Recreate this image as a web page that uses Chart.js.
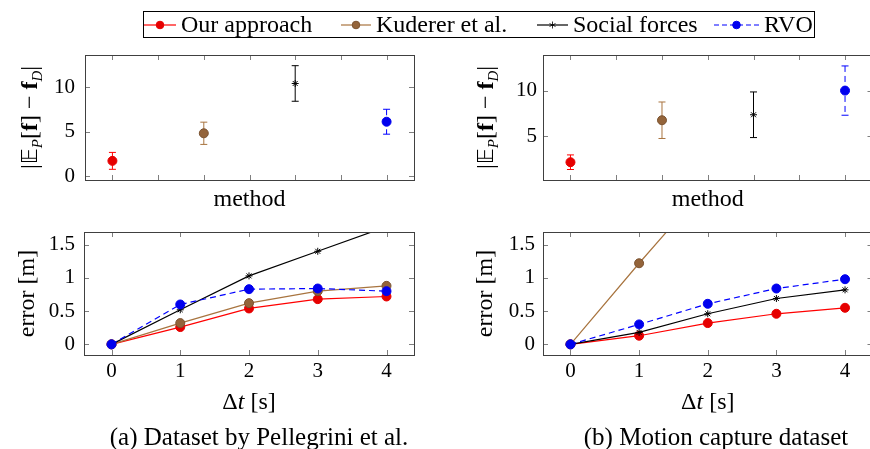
<!DOCTYPE html>
<html>
<head>
<meta charset="utf-8">
<script src="https://cdn.jsdelivr.net/npm/chart.js@4.4.0/dist/chart.umd.min.js"></script>
<style>
	body { margin: 0; width: 870px; height: 449px; overflow: hidden; background: #fff; position: relative; font-family: "Liberation Serif", serif; }
	canvas { position: absolute; left: 0; top: 0; }
	#legend { position: absolute; left: 143px; top: 11px; width: 672px; height: 27px; border: 1px solid #000; box-sizing: border-box; }
	.item { position: absolute; top: 0; height: 25px; display: flex; align-items: center; font-size: 24px; line-height: 25px; white-space: nowrap; }
	.item svg { margin-right: 5px; }
	.cap { position: absolute; top: 424px; font-size: 25px; line-height: 26px; white-space: nowrap; transform: translateX(-50%); }
</style>
</head>
<body>
<canvas id="tl" width="880" height="449"></canvas>
<canvas id="tr" width="880" height="449"></canvas>
<canvas id="bl" width="880" height="449"></canvas>
<canvas id="br" width="880" height="449"></canvas>
<div id="legend"></div>
<div class="cap" style="left:259px">(a) Dataset by Pellegrini et al.</div>
<div class="cap" style="left:716px">(b) Motion capture dataset</div>
<script>
// methods and feature differences (top row)
const methods = ['Our approach', 'Kuderer et al.', 'Social forces', 'RVO'];
const methodPos = [1, 2, 3, 4];
const featA = [1.7, 4.8, 10.4, 6.1];
const featErrA = [0.95, 1.25, 2.0, 1.4];
const featB = [2.15, 6.75, 7.35, 10.0];
const featErrB = [0.8, 2.0, 2.5, 2.7];

// prediction error over time (bottom row)
const dt = [0, 1, 2, 3, 4];
const oursA = [0, 0.26, 0.54, 0.68, 0.72];
const kudererA = [0, 0.32, 0.62, 0.80, 0.88];
const socialA = [0, 0.52, 1.03, 1.40, 1.77];
const rvoA = [0, 0.60, 0.83, 0.84, 0.80];
const oursB = [0, 0.13, 0.32, 0.46, 0.55];
const kudererB = [0, 1.22, 2.4, 3.5, 4.6];
const socialB = [0, 0.18, 0.46, 0.69, 0.82];
const rvoB = [0, 0.30, 0.61, 0.84, 0.98];

// tick positions
const methodTicks = [1, 1.5, 2, 2.5, 3, 3.5, 4];
const featTicksA = [0, 5, 10];
const featTicksB = [5, 10];
const dtTicks = [0, 1, 2, 3, 4];
const errTicks = [0, 0.5, 1, 1.5];

const lineColors = ['#ff0000', '#a8743f', '#000000', '#0000ff'];
const markFill = ['#e60000', '#94643a', '#000000', '#0000ee'];
const markStyle = ['circle', 'circle', 'star', 'circle'];
const dashes = [[], [], [], [6, 4]];

const serif = '"Liberation Serif", serif';
const W = 880, H = 449;

const drawRich = (ctx, parts, cx, cy, angle) => {
	ctx.save();
	ctx.translate(cx, cy);
	ctx.rotate(angle);
	ctx.textBaseline = 'alphabetic';
	ctx.fillStyle = '#000';
	let w = 0;
	parts.forEach(p => { ctx.font = p.font; p.w = ctx.measureText(p.text).width; w += p.w; });
	let x = -w / 2;
	parts.forEach(p => {
		ctx.font = p.font;
		ctx.fillText(p.text, x, 8 + (p.dy || 0));
		x += p.w;
	});
	ctx.restore();
}

// error bars, box, inward ticks and axis titles
const framePlugin = {
	id: 'frame',
	beforeDatasetsDraw(chart, args, opts) {
		const ctx = chart.ctx;
		chart.data.datasets.forEach((ds, i) => {
			if (!ds.errors) return;
			ctx.save();
			ctx.strokeStyle = ds.borderColor;
			ctx.lineWidth = 1;
			ds.data.forEach((p, j) => {
				const x = chart.scales.x.getPixelForValue(p.x);
				const y1 = chart.scales.y.getPixelForValue(p.y + ds.errors[j]);
				const y2 = chart.scales.y.getPixelForValue(p.y - ds.errors[j]);
				ctx.setLineDash(ds.errDash || []);
				ctx.beginPath();
				ctx.moveTo(x, y1); ctx.lineTo(x, y2);
				ctx.stroke();
				ctx.setLineDash([]);
				ctx.beginPath();
				ctx.moveTo(x - 3.5, y1); ctx.lineTo(x + 3.5, y1);
				ctx.moveTo(x - 3.5, y2); ctx.lineTo(x + 3.5, y2);
				ctx.stroke();
			});
			ctx.restore();
		});
	},
	afterDraw(chart, args, opts) {
		const ctx = chart.ctx;
		const a = chart.chartArea;
		ctx.save();
		ctx.strokeStyle = '#7f7f7f';
		ctx.lineWidth = 1;
		ctx.beginPath();
		chart.scales.x.ticks.forEach((t, i) => {
			const x = Math.round(chart.scales.x.getPixelForValue(t.value)) + 0.5;
			ctx.moveTo(x, a.top); ctx.lineTo(x, a.top + 5);
			ctx.moveTo(x, a.bottom); ctx.lineTo(x, a.bottom - 5);
		});
		chart.scales.y.ticks.forEach((t, i) => {
			const y = Math.round(chart.scales.y.getPixelForValue(t.value)) + 0.5;
			ctx.moveTo(a.left, y); ctx.lineTo(a.left + 5, y);
			ctx.moveTo(a.right, y); ctx.lineTo(a.right - 5, y);
		});
		ctx.stroke();
		ctx.strokeStyle = '#404040';
		ctx.strokeRect(Math.round(a.left) + 0.5, Math.round(a.top) + 0.5, Math.round(a.right - a.left), Math.round(a.bottom - a.top));
		ctx.restore();
		(opts.titles || []).forEach(t => {
			const cx = t.fromLeft !== undefined ? a.left - t.fromLeft : (a.left + a.right) / 2;
			const cy = t.fromBottom !== undefined ? a.bottom + t.fromBottom : (a.top + a.bottom) / 2;
			drawRich(ctx, t.parts, cx, cy, t.angle || 0);
		});
	}
};

const featTitle = () => [
	{ text: '|', font: `24px ${serif}` },
	{ text: '\u{1D53C}', font: `22px "DejaVu Sans", ${serif}` },
	{ text: 'P', font: `italic 15px ${serif}`, dy: 5 },
	{ text: '[', font: `24px ${serif}` },
	{ text: 'f', font: `bold 24px ${serif}` },
	{ text: '] \u2212 ', font: `24px ${serif}` },
	{ text: 'f', font: `bold 24px ${serif}` },
	{ text: 'D', font: `italic 15px ${serif}`, dy: 5 },
	{ text: '|', font: `24px ${serif}` }
];
const errTitle = () => [{ text: 'error [m]', font: `24px ${serif}` }];
const dtTitle = () => [
	{ text: '\u0394', font: `24px ${serif}` },
	{ text: 't', font: `italic 24px ${serif}` },
	{ text: ' [s]', font: `24px ${serif}` }
];
const methodTitle = () => [{ text: 'method', font: `24px ${serif}` }];

const makeChart = (id, area, type, datasets, xr, xTicks, showX, yr, yTicks, tickPad, titles) => {
	const yW = 70, xH = 40;
	new Chart(document.getElementById(id), {
		type,
		data: { datasets },
		plugins: [framePlugin],
		options: {
			responsive: false,
			animation: false,
			events: [],
			layout: { padding: { left: area[0] - yW, top: area[1], right: W - area[2], bottom: H - area[3] - xH } },
			plugins: { legend: { display: false }, tooltip: { enabled: false }, frame: { titles } },
			scales: {
				x: {
					type: 'linear', min: xr[0], max: xr[1],
					grid: { display: false, drawTicks: false }, border: { display: false },
					ticks: { display: showX, padding: 4, color: '#000', font: { family: serif, size: 21 }, callback: v => `${v}` },
					afterBuildTicks: s => { s.ticks = xTicks.map(v => ({ value: v })); },
					afterFit: s => { s.height = xH; s.paddingLeft = 0; s.paddingRight = 0; }
				},
				y: {
					type: 'linear', min: yr[0], max: yr[1],
					grid: { display: false, drawTicks: false }, border: { display: false },
					ticks: { padding: tickPad, color: '#000', font: { family: serif, size: 21 }, callback: v => `${v}` },
					afterBuildTicks: s => { s.ticks = yTicks.map(v => ({ value: v })); },
					afterFit: s => { s.width = yW; s.paddingTop = 0; s.paddingBottom = 0; }
				}
			}
		}
	});
}

const featSets = (vals, errs) => methods.map((m, i) => ({
	label: m,
	data: [{ x: methodPos[i], y: vals[i] }],
	errors: [errs[i]],
	errDash: dashes[i],
	borderColor: lineColors[i],
	backgroundColor: markFill[i],
	pointStyle: markStyle[i],
	pointRadius: markStyle[i] === 'star' ? 3.5 : 4.5,
	pointBorderColor: i === 1 ? '#7a5230' : markFill[i],
	pointBorderWidth: 1
}));

const errSets = (series) => series.map((s, i) => ({
	label: methods[i],
	data: dt.map((t, j) => ({ x: t, y: s[j] })),
	borderColor: lineColors[i],
	backgroundColor: markFill[i],
	borderWidth: 1.2,
	borderDash: dashes[i],
	tension: 0,
	pointStyle: markStyle[i],
	pointRadius: markStyle[i] === 'star' ? 3.5 : 4.5,
	pointBorderColor: i === 1 ? '#7a5230' : markFill[i],
	pointBorderWidth: 1,
	order: 3 - i
}));

makeChart('tl', [85, 55, 414, 180], 'scatter', featSets(featA, featErrA), [0.7, 4.3], methodTicks, false, [-0.45, 13.6], featTicksA, 10, [
	{ parts: featTitle(), fromLeft: 56, angle: -Math.PI / 2 },
	{ parts: methodTitle(), fromBottom: 18 }
]);
makeChart('tr', [543, 55, 872.5, 180], 'scatter', featSets(featB, featErrB), [0.7, 4.3], methodTicks, false, [0.2, 13.9], featTicksB, 6, [
	{ parts: featTitle(), fromLeft: 58, angle: -Math.PI / 2 },
	{ parts: methodTitle(), fromBottom: 18 }
]);
makeChart('bl', [84, 232, 414, 355], 'line', errSets([oursA, kudererA, socialA, rvoA]), [-0.4, 4.4], dtTicks, true, [-0.16, 1.69], errTicks, 9, [
	{ parts: errTitle(), fromLeft: 58, angle: -Math.PI / 2 },
	{ parts: dtTitle(), fromBottom: 46 }
]);
makeChart('br', [543, 232, 872.5, 355], 'line', errSets([oursB, kudererB, socialB, rvoB]), [-0.4, 4.4], dtTicks, true, [-0.16, 1.69], errTicks, 8, [
	{ parts: errTitle(), fromLeft: 59, angle: -Math.PI / 2 },
	{ parts: dtTitle(), fromBottom: 46 }
]);

// legend
const legendLeft = [0, 197, 393, 570];
const sampleW = [32, 30, 31, 45];
const legend = document.getElementById('legend');
methods.forEach((m, i) => {
	const item = document.createElement('div');
	item.className = 'item';
	item.style.left = legendLeft[i] + 'px';
	const w = sampleW[i];
	const dash = dashes[i].length ? 'stroke-dasharray="5 3"' : '';
	const mark = markStyle[i] === 'star'
		? `<path d="M${w / 2} 8.5 v7 M${w / 2 - 3} 10.5 l6 3 M${w / 2 + 3} 10.5 l-6 3" stroke="#000" stroke-width="0.8"/>`
		: `<circle cx="${w / 2}" cy="12" r="3.8" fill="${markFill[i]}" stroke="${i === 1 ? '#7a5230' : markFill[i]}"/>`;
	item.innerHTML = `<svg width="${w}" height="24"><line x1="0" y1="12" x2="${w}" y2="12" stroke="${lineColors[i]}" stroke-width="1.2" ${dash}/>${mark}</svg><span>${m}</span>`;
	legend.appendChild(item);
});
</script>
</body>
</html>
